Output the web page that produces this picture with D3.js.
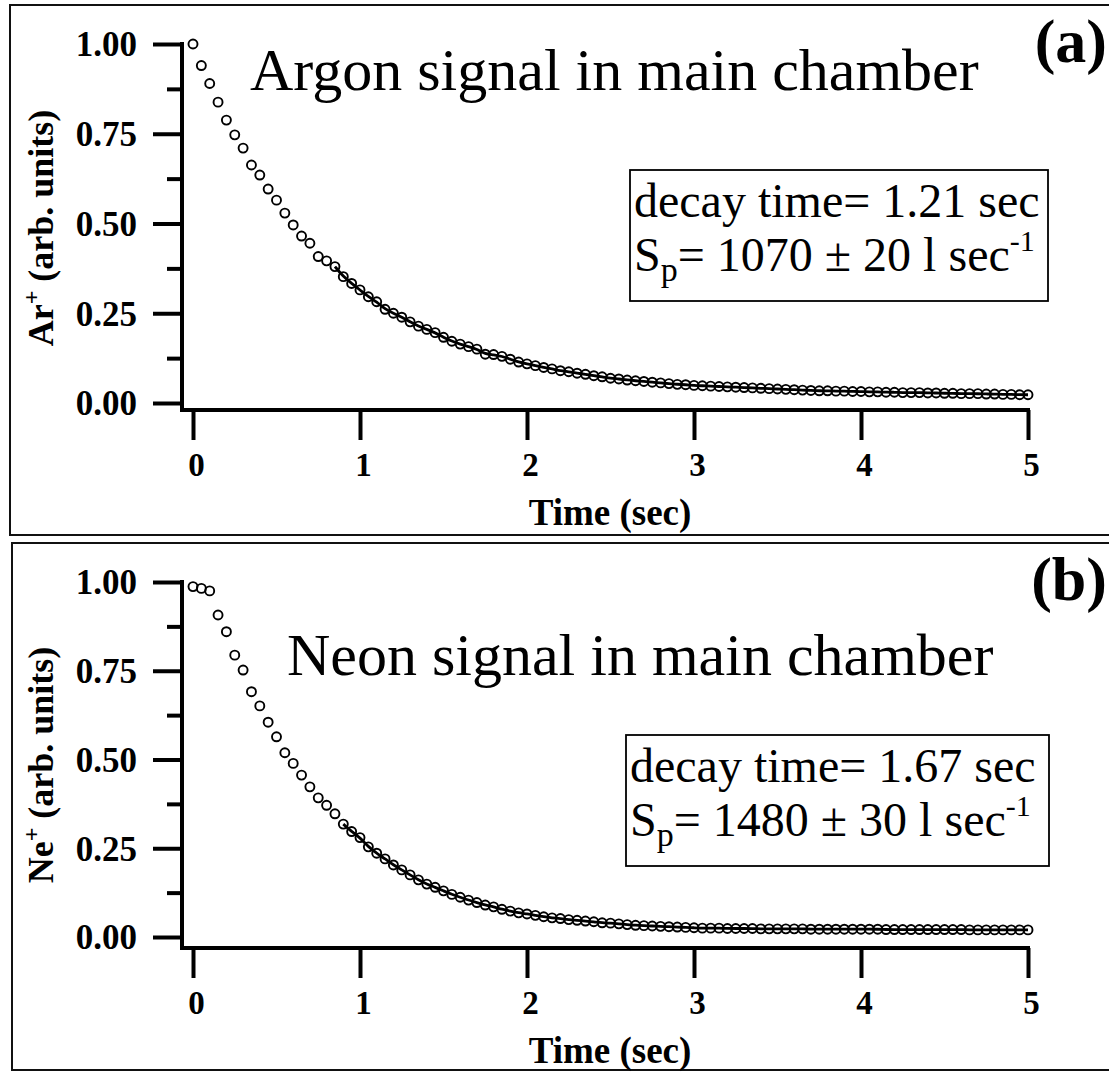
<!DOCTYPE html>
<html><head><meta charset="utf-8">
<script src="https://cdn.jsdelivr.net/npm/d3@7"></script>
<style>body{margin:0;background:#fff} svg{display:block}</style>
</head><body><svg id="c" width="1109" height="1072"></svg>
<script>
// ---- data ----
const timeSec = [
  0.00,0.05,0.10,0.15,0.20,0.25,0.30,0.35,0.40,0.45,
  0.50,0.55,0.60,0.65,0.70,0.75,0.80,0.85,0.90,0.95,
  1.00,1.05,1.10,1.15,1.20,1.25,1.30,1.35,1.40,1.45,
  1.50,1.55,1.60,1.65,1.70,1.75,1.80,1.85,1.90,1.95,
  2.00,2.05,2.10,2.15,2.20,2.25,2.30,2.35,2.40,2.45,
  2.50,2.55,2.60,2.65,2.70,2.75,2.80,2.85,2.90,2.95,
  3.00,3.05,3.10,3.15,3.20,3.25,3.30,3.35,3.40,3.45,
  3.50,3.55,3.60,3.65,3.70,3.75,3.80,3.85,3.90,3.95,
  4.00,4.05,4.10,4.15,4.20,4.25,4.30,4.35,4.40,4.45,
  4.50,4.55,4.60,4.65,4.70,4.75,4.80,4.85,4.90,4.95,
  5.00];
const argonSignal = [
  1.000,0.940,0.890,0.838,0.788,0.747,0.710,0.663,0.635,0.596,
  0.565,0.529,0.496,0.465,0.445,0.408,0.396,0.380,0.352,0.333,
  0.315,0.296,0.282,0.261,0.250,0.239,0.226,0.214,0.205,0.196,
  0.183,0.172,0.164,0.157,0.150,0.136,0.135,0.130,0.122,0.114,
  0.109,0.104,0.099,0.095,0.090,0.087,0.083,0.080,0.076,0.073,
  0.069,0.067,0.064,0.062,0.060,0.058,0.056,0.054,0.052,0.051,
  0.049,0.048,0.047,0.046,0.045,0.044,0.043,0.042,0.041,0.040,
  0.039,0.038,0.037,0.036,0.035,0.034,0.034,0.033,0.033,0.032,
  0.032,0.031,0.031,0.030,0.030,0.029,0.029,0.029,0.028,0.028,
  0.027,0.027,0.026,0.026,0.026,0.025,0.025,0.024,0.024,0.023,
  0.023];
const neonSignal = [
  0.987,0.982,0.975,0.907,0.860,0.794,0.752,0.691,0.651,0.605,
  0.564,0.519,0.489,0.456,0.423,0.392,0.371,0.347,0.318,0.297,
  0.280,0.254,0.236,0.220,0.203,0.189,0.175,0.161,0.149,0.140,
  0.130,0.120,0.112,0.104,0.097,0.090,0.085,0.078,0.073,0.068,
  0.065,0.061,0.057,0.054,0.052,0.049,0.047,0.045,0.043,0.040,
  0.039,0.037,0.035,0.033,0.032,0.031,0.030,0.029,0.028,0.027,
  0.026,0.025,0.025,0.025,0.024,0.024,0.024,0.024,0.023,0.023,
  0.023,0.023,0.023,0.023,0.022,0.022,0.022,0.022,0.022,0.022,
  0.022,0.022,0.022,0.021,0.021,0.021,0.021,0.021,0.021,0.021,
  0.021,0.021,0.021,0.020,0.020,0.020,0.020,0.020,0.020,0.020,
  0.020];
const xTickValues = [0, 1, 2, 3, 4, 5];
const yMajorTicks = [0, 0.25, 0.5, 0.75, 1.0];
const yMinorTicks = [0.125, 0.375, 0.625, 0.875];
const panelTitles = ["Argon signal in main chamber", "Neon signal in main chamber"];
const panelLetters = ["(a)", "(b)"];
const ionNames = ["Ar", "Ne"];
const decayTimes = ["1.21", "1.67"];
const pumpSpeeds = ["1070 ± 20", "1480 ± 30"];
const fitStartTimes = [0.85, 0.9];
const xAxisTitle = "Time (sec)";
const yAxisUnits = " (arb. units)";

// ---- layout ----
const SERIF = "'Liberation Serif','Times New Roman',Times,serif";
const svg = d3.select("#c");
svg.append("rect").attr("width", 1109).attr("height", 1072).attr("fill", "#fff");

const layouts = [
  {frame:[10, 5, 1120, 535], y0:403, y1:44, axisY:410, titleX:250, titleY:90,
   letterX:1107, letterY:62, box:[630,170,418,131], ylabX:53, ylabY:228},
  {frame:[12, 543, 1120, 1070], y0:937, y1:582, axisY:948, titleX:287, titleY:675,
   letterX:1107, letterY:600, box:[626,735,423,131], ylabX:53, ylabY:765}
];
const seriesList = [argonSignal, neonSignal];

const x = d3.scaleLinear().domain([0, 5]).range([193, 1028]);

layouts.forEach((L, i) => {
  const g = svg.append("g");
  // frame
  g.append("path")
    .attr("d", `M${L.frame[2]},${L.frame[1]} H${L.frame[0]} V${L.frame[3]} H${L.frame[2]}`)
    .attr("fill", "none").attr("stroke", "#111").attr("stroke-width", 2);

  const y = d3.scaleLinear().domain([0, 1]).range([L.y0, L.y1]);

  // y axis
  const yAx = g.append("g").attr("transform", `translate(182,0)`)
    .call(d3.axisLeft(y).tickValues(yMajorTicks).tickSize(29).tickSizeOuter(0)
      .tickPadding(16).tickFormat(d3.format(".2f")));
  yAx.select(".domain").remove();
  yAx.selectAll(".tick line").attr("stroke", "#000").attr("stroke-width", 4);
  yAx.selectAll(".tick text").attr("font-family", SERIF).attr("font-weight", "bold")
    .attr("font-size", 35).attr("fill", "#000").attr("dy", "0.34em");
  const yMin = g.append("g").attr("transform", `translate(182,0)`)
    .call(d3.axisLeft(y).tickValues(yMinorTicks).tickSize(15).tickSizeOuter(0).tickFormat(""));
  yMin.select(".domain").remove();
  yMin.selectAll(".tick line").attr("stroke", "#000").attr("stroke-width", 4);
  g.append("line").attr("x1", 182).attr("x2", 182).attr("y1", y(1) - 2).attr("y2", L.axisY)
    .attr("stroke", "#000").attr("stroke-width", 4);

  // x axis
  const xAx = g.append("g").attr("transform", `translate(0,${L.axisY})`)
    .call(d3.axisBottom(x).tickValues(xTickValues).tickSize(30).tickSizeOuter(0)
      .tickPadding(13).tickFormat(d3.format("d")));
  xAx.select(".domain").remove();
  xAx.selectAll(".tick line").attr("stroke", "#000").attr("stroke-width", 4);
  xAx.selectAll(".tick text").attr("font-family", SERIF).attr("font-weight", "bold")
    .attr("font-size", 33).attr("fill", "#000").attr("dx", 3);
  g.append("line").attr("x1", 180).attr("x2", x(5) + 2).attr("y1", L.axisY).attr("y2", L.axisY)
    .attr("stroke", "#000").attr("stroke-width", 4);

  // x axis title
  g.append("text").attr("x", 610).attr("y", L.axisY + 115).attr("text-anchor", "middle")
    .attr("font-family", SERIF).attr("font-weight", "bold").attr("font-size", 37)
    .text(xAxisTitle);

  // y axis title
  const yl = g.append("text")
    .attr("transform", `translate(${L.ylabX},${L.ylabY}) rotate(-90)`)
    .attr("text-anchor", "middle").attr("font-family", SERIF).attr("font-weight", "bold")
    .attr("font-size", 36);
  yl.append("tspan").text(ionNames[i]);
  yl.append("tspan").attr("font-size", 24).attr("dy", -14).text("+");
  yl.append("tspan").attr("dy", 14).text(yAxisUnits);

  // data
  const vals = seriesList[i];
  const pts = timeSec.map((t, k) => ({t, v: vals[k]}));

  // fit curve through the tail of the data
  g.append("path")
    .datum(pts.filter(d => d.t >= fitStartTimes[i] - 1e-9))
    .attr("fill", "none").attr("stroke", "#000").attr("stroke-width", 2.8)
    .attr("d", d3.line().x(d => x(d.t)).y(d => y(d.v)).curve(d3.curveBasis));

  g.append("g").selectAll("circle").data(pts).join("circle")
    .attr("cx", d => x(d.t)).attr("cy", d => y(d.v)).attr("r", 4.5)
    .attr("fill", "none").attr("stroke", "#000").attr("stroke-width", 1.9);

  // title
  g.append("text").attr("x", L.titleX).attr("y", L.titleY)
    .attr("font-family", SERIF).attr("font-size", 60).attr("fill", "#000")
    .text(panelTitles[i]);

  // panel letter
  g.append("text").attr("x", L.letterX).attr("y", L.letterY).attr("text-anchor", "end")
    .attr("font-family", SERIF).attr("font-weight", "bold").attr("font-size", 62)
    .text(panelLetters[i]);

  // result box
  const [bx, by, bw, bh] = L.box;
  g.append("rect").attr("x", bx).attr("y", by).attr("width", bw).attr("height", bh)
    .attr("fill", "#fff").attr("stroke", "#000").attr("stroke-width", 1.8);
  g.append("text").attr("x", bx + 4).attr("y", by + 47)
    .attr("font-family", SERIF).attr("font-size", 48)
    .text(`decay time= ${decayTimes[i]} sec`);
  const t2 = g.append("text").attr("x", bx + 4).attr("y", by + 101)
    .attr("font-family", SERIF).attr("font-size", 48);
  t2.append("tspan").text("S");
  t2.append("tspan").attr("font-size", 34).attr("dy", 10).text("p");
  t2.append("tspan").attr("dy", -10).text(`= ${pumpSpeeds[i]} l sec`);
  t2.append("tspan").attr("font-size", 30).attr("dy", -20).text("-1");
});
</script>
</body></html>
